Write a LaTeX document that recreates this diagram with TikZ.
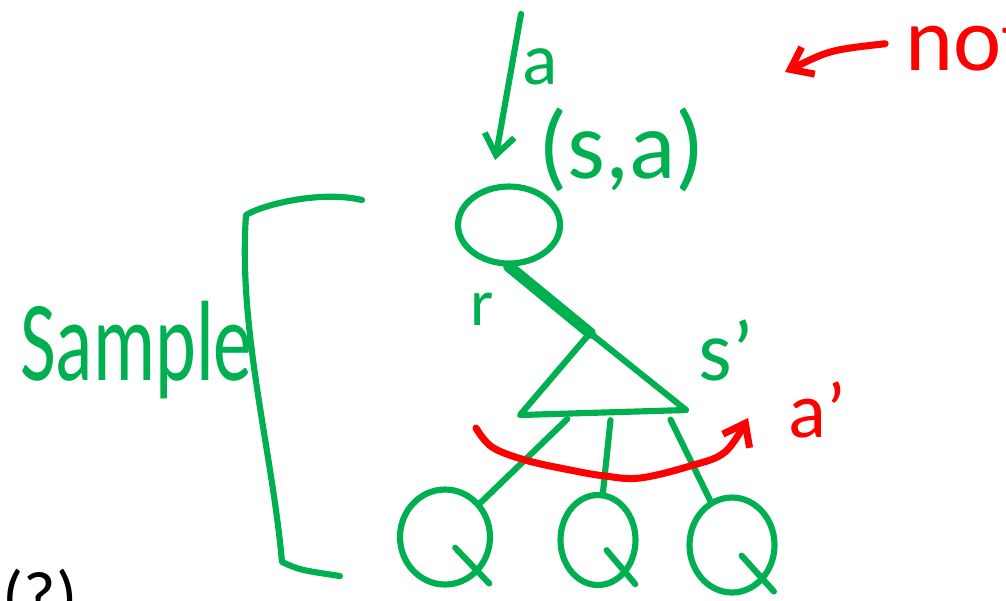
\documentclass[tikz,border=0pt]{standalone}
\usepackage{fontspec}
\setmainfont{Carlito}
\usetikzlibrary{arrows.meta,positioning,shapes.geometric,calc}
\definecolor{inkgreen}{RGB}{0,176,80}
\definecolor{inkred}{RGB}{255,0,0}
\newcommand{\handsize}[1]{\fontsize{#1}{#1}\selectfont}

\begin{document}
\begin{tikzpicture}[
    x=0.02cm, y=-0.02cm,
    pen/.style={draw=inkgreen, line width=3.5pt, line cap=round, line join=round},
    redpen/.style={draw=inkred, line width=4pt, line cap=round, line join=round},
    state/.style={ellipse, pen, minimum width=2.04cm, minimum height=1.54cm},
    qnode/.style={ellipse, pen, minimum width=1.8cm, minimum height=1.9cm},
    lbl/.style={inner sep=0pt, anchor=base west, text=inkgreen},
    arrow/.style={-{Straight Barb[length=4mm,width=6mm]}}
]
    \useasboundingbox (0,0) rectangle (1006,600);
    \clip (0,0) rectangle (1006,600);

    % Root (s,a)
    \node[state] (root) at (509,225) {};
    \coordinate (atop) at (521,14);
    \draw[pen, arrow, shorten >=0.6cm] (atop) -- ($(root.north west)!0.5!(root.north)$);
    \node[lbl] (alab) at (522,84) {\handsize{42}a};
    \node[lbl] (salab) at (538,178) {\handsize{55}(s,a)};

    % Next state s'
    \coordinate (apex) at (590,333);
    \coordinate (bl) at (520,415);
    \coordinate (br) at (686,410);
    \draw[pen] (apex) -- (bl) -- (br) -- cycle;
    \draw[pen, line width=6.5pt] (root.south) -- (apex);
    \node[lbl] (rlab) at (470,325) {\handsize{38}r};
    \node[lbl] (slab) at (698,380) {\handsize{49}s'};

    % Q values
    \node[qnode] (q1) at (445,537) {};
    \node[qnode, minimum width=1.5cm, minimum height=1.8cm] (q2) at (598,540) {};
    \node[qnode, minimum width=1.7cm] (q3) at (732,545) {};
    \foreach \q in {q1,q2,q3}
        \draw[pen] ($(\q.center)!0.3!(\q.south east)$) -- ($(\q.center)!1.3!(\q.south east)$);
    \coordinate (b1) at ($(bl)!0.32!(br)$);
    \coordinate (b2) at ($(bl)!0.55!(br)$);
    \coordinate (b3) at ($(bl)!0.88!(br)$);
    \draw[pen, shorten <=0.16cm] (b1) -- (q1);
    \draw[pen, shorten <=0.16cm] (b2) -- (q2);
    \draw[pen, shorten <=0.2cm] (b3) -- (q3);

    % Max over a'
    \node[lbl, text=inkred] (aplab) at (788,437) {\handsize{45}a'};
    \coordinate (rstart) at (476,428);
    \coordinate (rend) at (748,418);
    \draw[redpen, arrow] plot[smooth, tension=0.6] coordinates {(rstart) (492,447) (525,460) (570,470) (605,476) (640,478) (690,466) (725,452) (rend)};

    % Note
    \node[lbl, text=inkred] (nt) at (905,70) {\handsize{52}not};
    \coordinate (nend) at (785,72);
    \draw[redpen, arrow, shorten <=0.4cm] (nt.west) .. controls (830,50) .. (nend);

    % Sample bracket
    \node[lbl] (smp) at (20,380) {\handsize{65}\scalebox{0.68}[1]{Sample}};
    \draw[pen] (362,200) .. controls (320,190) and (262,205) .. (246,215)
        .. controls (238,330) and (272,450) .. (282,562)
        .. controls (300,570) .. (340,576);
    \node[inner sep=0pt, anchor=base west] (qmark) at (2,620) {\handsize{40}(?)};
\end{tikzpicture}
\end{document}
